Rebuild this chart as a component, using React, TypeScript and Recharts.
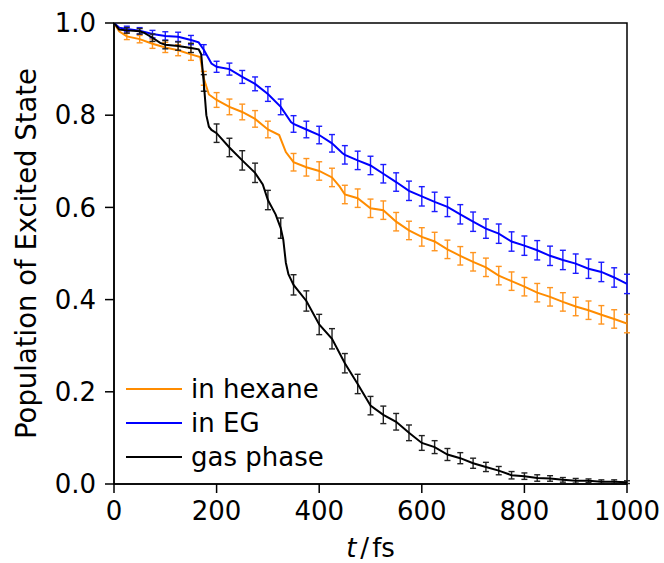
import React from 'react';
import { ComposedChart, Line, XAxis, YAxis, ErrorBar, ReferenceArea, Legend } from 'recharts';

// Time axis ticks (fs) and population ticks
const xTicks = [0, 200, 400, 600, 800, 1000];
const yTicks = [0, 0.2, 0.4, 0.6, 0.8, 1.0];

// Times at which error bars are drawn (fs)
const errTimes = [25, 50, 75, 100, 125, 150, 175, 200, 225, 250, 275, 300, 325, 350, 375, 400, 425, 450, 475, 500,
  525, 550, 575, 600, 625, 650, 675, 700, 725, 750, 775, 800, 825, 850, 875, 900, 925, 950, 975, 1000];

// in hexane
const hexaneTimes = [0, 10, 25, 50, 75, 100, 125, 150, 168, 175, 185, 200, 225, 250, 275, 300, 322, 335, 350, 375, 400,
  425, 440, 450, 475, 500, 525, 550, 575, 600, 625, 650, 675, 700, 725, 750, 775, 800, 825, 850, 875, 900, 925, 950, 975, 1000];
const hexaneValues = [1.0, 0.982, 0.971, 0.965, 0.955, 0.947, 0.941, 0.932, 0.926, 0.88, 0.845, 0.833, 0.818, 0.807, 0.792,
  0.769, 0.757, 0.72, 0.698, 0.687, 0.679, 0.665, 0.645, 0.628, 0.620, 0.598, 0.594, 0.569, 0.550, 0.536, 0.526, 0.509,
  0.495, 0.482, 0.470, 0.452, 0.440, 0.428, 0.415, 0.406, 0.395, 0.385, 0.377, 0.367, 0.358, 0.348];
const hexaneErr = [0.007, 0.008, 0.010, 0.011, 0.012, 0.013, 0.015, 0.016, 0.017, 0.017, 0.018, 0.018, 0.019, 0.019, 0.019,
  0.020, 0.020, 0.020, 0.020, 0.020, 0.020, 0.020, 0.020, 0.020, 0.020, 0.020, 0.020, 0.020, 0.020, 0.020, 0.020, 0.020,
  0.020, 0.020, 0.020, 0.020, 0.020, 0.020, 0.020, 0.020];

// in EG
const egTimes = [0, 10, 25, 50, 75, 100, 125, 150, 165, 175, 190, 200, 225, 250, 275, 300, 325, 345, 350, 375, 400, 425,
  445, 450, 475, 500, 525, 550, 575, 600, 625, 650, 675, 700, 725, 750, 775, 800, 825, 850, 875, 900, 925, 950, 975, 1000];
const egValues = [1.0, 0.99, 0.987, 0.983, 0.976, 0.972, 0.970, 0.963, 0.958, 0.942, 0.912, 0.905, 0.900, 0.883, 0.868,
  0.846, 0.818, 0.785, 0.781, 0.769, 0.757, 0.739, 0.718, 0.714, 0.702, 0.691, 0.673, 0.655, 0.636, 0.624, 0.612, 0.601,
  0.585, 0.569, 0.554, 0.543, 0.526, 0.517, 0.507, 0.495, 0.486, 0.478, 0.467, 0.460, 0.448, 0.434];
const egErr = [0.006, 0.007, 0.008, 0.009, 0.010, 0.010, 0.011, 0.012, 0.013, 0.014, 0.015, 0.016, 0.017, 0.018, 0.018,
  0.019, 0.019, 0.020, 0.020, 0.020, 0.020, 0.020, 0.021, 0.021, 0.021, 0.021, 0.021, 0.021, 0.021, 0.021, 0.021, 0.021,
  0.021, 0.021, 0.021, 0.021, 0.021, 0.021, 0.021, 0.021];

// gas phase
const gasTimes = [0, 10, 25, 50, 60, 75, 90, 100, 125, 150, 165, 170, 175, 180, 185, 190, 200, 225, 250, 275, 290, 300,
  315, 325, 330, 335, 340, 350, 375, 400, 425, 450, 475, 500, 525, 550, 575, 600, 625, 650, 675, 700, 725, 750, 775, 800,
  825, 850, 875, 900, 925, 950, 975, 1000];
const gasValues = [1.0, 0.986, 0.984, 0.982, 0.978, 0.968, 0.957, 0.953, 0.950, 0.946, 0.943, 0.932, 0.870, 0.80, 0.775,
  0.768, 0.761, 0.730, 0.702, 0.675, 0.650, 0.616, 0.585, 0.555, 0.53, 0.48, 0.455, 0.432, 0.397, 0.346, 0.315, 0.262,
  0.217, 0.170, 0.150, 0.135, 0.111, 0.089, 0.080, 0.064, 0.056, 0.045, 0.037, 0.029, 0.019, 0.017, 0.013, 0.012, 0.009,
  0.007, 0.007, 0.005, 0.005, 0.004];
const gasErr = [0.006, 0.006, 0.008, 0.009, 0.009, 0.010, 0.018, 0.020, 0.020, 0.021, 0.021, 0.021, 0.022, 0.022, 0.022,
  0.022, 0.022, 0.021, 0.021, 0.020, 0.019, 0.018, 0.017, 0.016, 0.014, 0.013, 0.012, 0.011, 0.010, 0.009, 0.008, 0.007,
  0.007, 0.006, 0.005, 0.005, 0.004, 0.004, 0.004, 0.003];

const FONT = '"DejaVu Sans", sans-serif';
const FS = 26;

const build = (times: number[], values: number[], errs: number[]) =>
  times.map((t, i) => {
    const k = errTimes.indexOf(t);
    return { t, v: values[i], err: k >= 0 ? errs[k] : undefined };
  });

const series = [
  { name: 'in hexane', color: '#ff8c00', errColor: '#ff9520', data: build(hexaneTimes, hexaneValues, hexaneErr) },
  { name: 'in EG', color: '#0000ff', errColor: '#1c1cff', data: build(egTimes, egValues, egErr) },
  { name: 'gas phase', color: '#000000', errColor: '#222222', data: build(gasTimes, gasValues, gasErr) },
];

const XLabel = (props: any) => {
  const vb = props.viewBox || {};
  const cx = vb.x + vb.width / 2;
  const y = vb.y + 73;
  return (
    <text x={cx} y={y} textAnchor="middle" fontFamily={FONT} fontSize={FS} fill="#000">
      <tspan fontStyle="italic">t</tspan>
      <tspan dx={4}>/</tspan>
      <tspan dx={3}>fs</tspan>
    </text>
  );
};

const YLabel = (props: any) => {
  const vb = props.viewBox || {};
  const cy = vb.y + vb.height / 2;
  const x = 26;
  return (
    <text x={x} y={cy} transform={`rotate(-90 ${x} ${cy})`} textAnchor="middle" dominantBaseline="central"
      fontFamily={FONT} fontSize={27.5} fill="#000">
      Population of Excited State
    </text>
  );
};

const LegendContent = () => (
  <div style={{ fontFamily: FONT, fontSize: FS, color: '#000' }}>
    {series.map((s) => (
      <div key={s.name} style={{ display: 'flex', alignItems: 'center', height: 34, whiteSpace: 'nowrap' }}>
        <svg width={56} height={4} style={{ display: 'block' }}>
          <line x1={0} y1={2} x2={56} y2={2} stroke={s.color} strokeWidth={2} />
        </svg>
        <span style={{ marginLeft: 9, lineHeight: '30px' }}>{s.name}</span>
      </div>
    ))}
  </div>
);

export default function App() {
  return (
    <div style={{ position: 'absolute', left: 0, top: 0, width: 664, height: 563, background: '#fff' }}>
      <ComposedChart width={664} height={563} margin={{ top: 23, right: 37, bottom: 0, left: 0 }}>
        <XAxis
          dataKey="t"
          type="number"
          domain={[0, 1000]}
          ticks={xTicks}
          allowDataOverflow
          height={79}
          tickSize={9}
          tickMargin={9}
          stroke="#000"
          strokeWidth={1.5}
          tick={{ fill: '#000', fontFamily: FONT, fontSize: FS }}
          label={<XLabel />}
        />
        <YAxis
          type="number"
          domain={[0, 1]}
          ticks={yTicks}
          allowDataOverflow
          width={114}
          tickSize={9}
          tickMargin={9}
          stroke="#000"
          strokeWidth={1.5}
          tickFormatter={(v: number) => v.toFixed(1)}
          tick={{ fill: '#000', fontFamily: FONT, fontSize: FS }}
          label={<YLabel />}
        />
        {series.map((s) => (
          <Line
            key={s.name}
            data={s.data}
            dataKey="v"
            name={s.name}
            type="linear"
            stroke={s.color}
            strokeWidth={2}
            dot={false}
            activeDot={false}
            isAnimationActive={false}
          >
            <ErrorBar dataKey="err" direction="y" width={3} stroke={s.errColor} strokeWidth={1.4} isAnimationActive={false} />
          </Line>
        ))}
        <ReferenceArea x1={0} x2={1000} y1={0} y2={1} fill="none" fillOpacity={0} stroke="#000" strokeWidth={1.5} ifOverflow="visible" />
        <Legend
          layout="vertical"
          align="center"
          verticalAlign="middle"
          content={<LegendContent />}
          wrapperStyle={{ left: 126, top: 372, width: 250, height: 102 }}
        />
      </ComposedChart>
    </div>
  );
}
